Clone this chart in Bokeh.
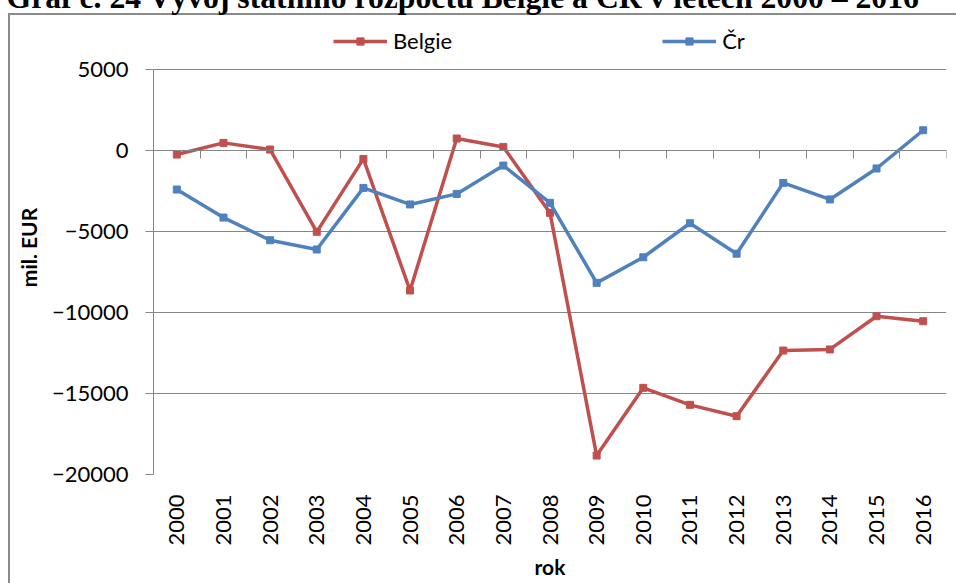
import math
from bokeh.plotting import figure
from bokeh.models import (LinearAxis, FixedTicker, Range1d, Legend, LegendItem)
from bokeh.embed import file_html
from bokeh.resources import INLINE

# ---- data (mil. EUR) ----
years = list(range(2000, 2017))
belgie = [-250, 470, 60, -5020, -520, -8640, 740, 220, -3850, -18830,
          -14650, -15700, -16400, -12350, -12280, -10230, -10540]
cr = [-2410, -4140, -5540, -6110, -2310, -3330, -2680, -930, -3230, -8170,
      -6590, -4490, -6370, -2000, -3020, -1110, 1250]
y_ticks = [5000, 0, -5000, -10000, -15000, -20000]
year_labels = [str(y) for y in years]
title_text = "Graf č. 24 Vývoj státního rozpočtu Belgie a ČR v letech 2000 – 2016"

RED = "#C0504D"
BLUE = "#4F81BD"
GRID = "#868686"
FRAME = "#8a8a8a"
FONT = "Lato"
SHIFT = 40            # part of the canvas hidden above the page top (title is cut off)
AXIS_TOP = 69         # page y of the top gridline (5000)
AXIS_BOTTOM = 474     # page y of the bottom gridline (-20000)
FRAME_TOP = 20        # page y of the top of the plotting frame (legend lives inside)
px_per_unit = (AXIS_BOTTOM - AXIS_TOP) / (y_ticks[0] - y_ticks[-1])
y_end = y_ticks[0] + (AXIS_TOP - FRAME_TOP) / px_per_unit

p = figure(width=956, height=583 + SHIFT, output_backend="svg", toolbar_location=None,
           x_range=Range1d(years[0] - 0.5, years[-1] + 0.5),
           y_range=Range1d(y_ticks[-1], y_end),
           min_border_left=153, min_border_right=10,
           min_border_top=FRAME_TOP + SHIFT, min_border_bottom=583 - AXIS_BOTTOM)
p.styles = {
    "margin-top": f"-{SHIFT}px",
    "background": (f"linear-gradient({FRAME},{FRAME}) 8px {13 + SHIFT}px / 100% 2px no-repeat, "
                   f"linear-gradient({FRAME},{FRAME}) 8px {13 + SHIFT}px / 2px 100% no-repeat, white"),
}
p.outline_line_color = None
p.background_fill_color = "white"
p.border_fill_alpha = 0

# title (top part falls above the page)
p.title.text = title_text
p.title.text_font = "Liberation Serif"
p.title.text_font_style = "bold"
p.title.text_font_size = "31.7px"
p.title.text_color = "#000000"
p.title.align = "left"
p.title.offset = -147
p.title.standoff = 11

# category label axis (bottom)
xa = p.xaxis[0]
xa.ticker = FixedTicker(ticks=years)
xa.major_label_overrides = {y: s for y, s in zip(years, year_labels)}
xa.major_label_orientation = math.pi / 2
xa.axis_line_color = None
xa.major_tick_line_color = None
xa.minor_tick_line_color = None
xa.major_label_standoff = 14
xa.major_label_text_font = FONT
xa.major_label_text_font_size = "22px"
xa.major_label_text_color = "#000000"
xa.axis_label = "rok"
xa.axis_label_text_font = FONT
xa.axis_label_text_font_style = "bold"
xa.axis_label_text_font_size = "21px"
xa.axis_label_text_color = "#000000"
xa.axis_label_standoff = 5

# axis line crossing at zero with boundary ticks
bounds = [y - 0.5 for y in years] + [years[-1] + 0.5]
zero_axis = LinearAxis(fixed_location=0, ticker=FixedTicker(ticks=bounds),
                       major_label_overrides={b: "" for b in bounds},
                       axis_line_color=GRID, axis_line_width=1,
                       major_tick_line_color=GRID, major_tick_in=0, major_tick_out=8,
                       minor_tick_line_color=None, major_label_text_font_size="1px")
p.add_layout(zero_axis, "below")

# y axis
ya = p.yaxis[0]
ya.ticker = FixedTicker(ticks=y_ticks)
ya.bounds = (y_ticks[-1], y_ticks[0])
ya.axis_line_color = GRID
ya.major_tick_line_color = GRID
ya.major_tick_in = 0
ya.major_tick_out = 8
ya.minor_tick_line_color = None
ya.major_label_standoff = 17
ya.major_label_text_font = FONT
ya.major_label_text_font_size = "22px"
ya.major_label_text_color = "#000000"
ya.axis_label = "mil. EUR"
ya.axis_label_text_font = FONT
ya.axis_label_text_font_style = "bold"
ya.axis_label_text_font_size = "21px"
ya.axis_label_text_color = "#000000"
ya.axis_label_standoff = 8

p.xgrid.visible = False
p.ygrid.ticker = FixedTicker(ticks=y_ticks)
p.ygrid.grid_line_color = GRID
p.ygrid.grid_line_width = 1

# series
lb = p.line(years, belgie, line_color=RED, line_width=3.5)
sb = p.scatter(years, belgie, marker="square", size=7, fill_color=RED, line_color=RED)
lc = p.line(years, cr, line_color=BLUE, line_width=3.5)
sc = p.scatter(years, cr, marker="square", size=7, fill_color=BLUE, line_color=BLUE)

legend = Legend(items=[LegendItem(label="Belgie", renderers=[lb, sb]),
                       LegendItem(label="Čr", renderers=[lc, sc])],
                location=(180, AXIS_BOTTOM - 54), orientation="horizontal",
                glyph_width=54, glyph_height=18, label_standoff=6, spacing=210,
                label_width=43, padding=0, margin=0, border_line_color=None,
                background_fill_alpha=0, label_text_font=FONT,
                label_text_font_size="22px", label_text_color="#000000")
p.add_layout(legend, "center")

open("out.html", "w").write(file_html(p, INLINE))
